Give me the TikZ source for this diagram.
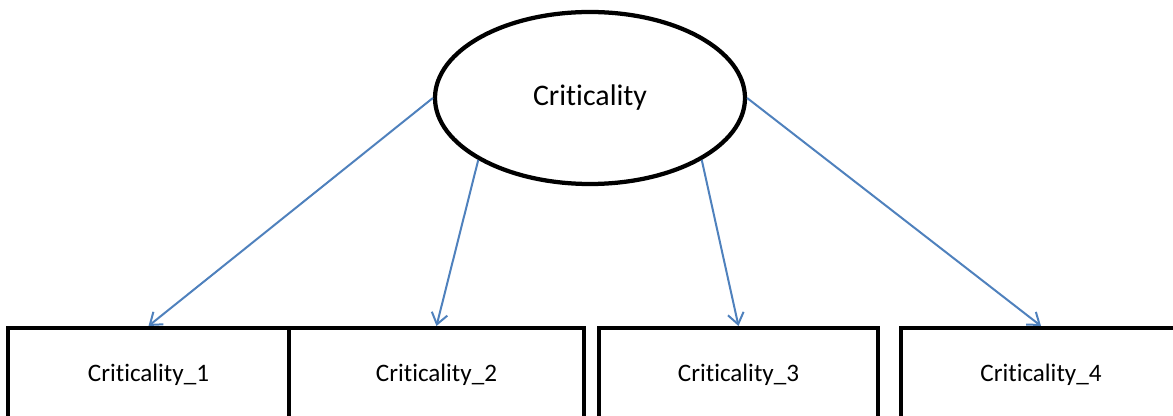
\documentclass[tikz,border=0pt]{standalone}
\usepackage{fontspec}
\setmainfont{Carlito}[Ligatures={NoCommon}]
\usetikzlibrary{shapes.geometric, arrows.meta}

\definecolor{linkblue}{RGB}{79,129,189}

\tikzset{
	latent/.style={draw, ellipse, line width=0.085cm, inner sep=0pt, minimum width=6.2cm, minimum height=3.44cm, font=\fontsize{17}{20}\selectfont},
	item/.style={draw, rectangle, line width=0.08cm, minimum height=1.88cm, font=\fontsize{14.3}{17}\selectfont},
	load/.style={draw=linkblue, line width=0.04cm, -{Straight Barb[length=0.22cm, width=0.32cm, line width=0.04cm]}}
}

\begin{document}
\begin{tikzpicture}
			\clip (0, 0) rectangle (23.46, -8.32);
			
			\node[latent] (crit) at (11.8, -1.96) {Criticality};
			
			\node[item, minimum width=5.62cm] (c1) at (2.97, -7.5) {Criticality\_1};
			\node[item, minimum width=5.9cm] (c2) at (8.73, -7.5) {Criticality\_2};
			\node[item, minimum width=5.58cm] (c3) at (14.77, -7.5) {Criticality\_3};
			\node[item, minimum width=5.6cm] (c4) at (20.82, -7.5) {Criticality\_4};
			
			\draw[load] (crit.west) -- (c1.north);
			\draw[load] (crit.209.6) -- (c2.north);
			\draw[load] (crit.331) -- (c3.north);
			\draw[load] (crit.east) -- (c4.north);
			
		\end{tikzpicture}
\end{document}
